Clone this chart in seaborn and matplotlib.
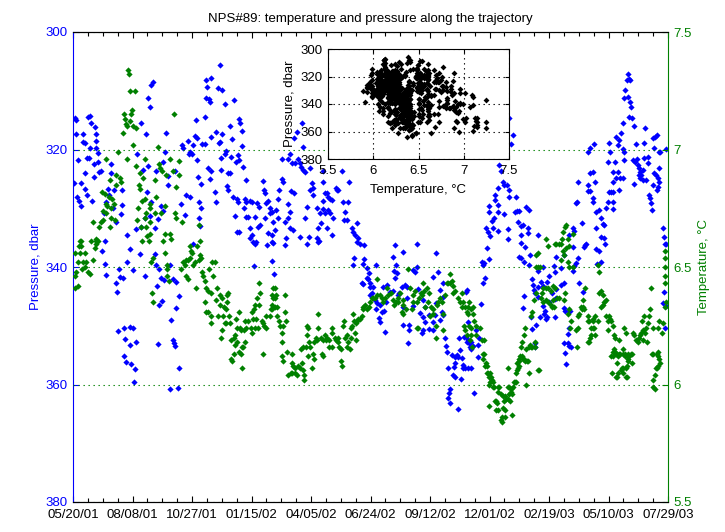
import numpy as np
import pandas as pd
import matplotlib
matplotlib.use("Agg")
import matplotlib.pyplot as plt
import matplotlib.dates as mdates
import seaborn as sns

plt.rcParams['font.family'] = ['Liberation Sans', 'DejaVu Sans']

# ---------------- data ----------------
start_date = "2001-05-20"
tick_labels = ['05/20/01', '08/08/01', '10/27/01', '01/15/02', '04/05/02', '06/24/02',
               '09/12/02', '12/01/02', '02/19/03', '05/10/03', '07/29/03']
pres_ticks = [300, 320, 340, 360, 380]
temp_ticks = [5.5, 6.0, 6.5, 7.0, 7.5]

# pressure samples: day offset from start_date, pressure (dbar)
days_p = [
 1,3,4,4,5,7,8,11,11,13,13,16,16,16,19,19,20,22,23,23,24,26,28,28,30,31,31,31,34,34,35,
 38,39,42,43,43,44,44,47,48,51,51,54,55,58,58,59,61,62,63,65,66,66,67,69,69,70,71,73,73,77,77,77,
 78,81,81,82,83,85,85,86,90,91,91,94,97,97,98,99,101,101,104,104,105,105,108,110,110,112,112,113,114,114,116,116,
 118,118,120,121,121,122,124,125,128,128,130,130,132,134,134,136,137,137,138,138,141,143,143,145,147,148,151,152,155,156,157,157,160,161,161,164,165,167,167,168,169,169,
 171,172,172,173,177,177,179,179,180,182,183,184,184,186,186,186,191,192,192,195,196,198,198,199,199,200,200,204,204,206,207,208,208,211,211,212,214,215,216,218,219,220,220,222,222,223,223,223,
 225,227,227,229,230,231,233,233,233,235,238,238,238,241,241,242,243,245,245,246,247,249,250,251,255,257,258,258,259,261,262,262,265,265,268,268,268,268,269,269,270,
 272,273,276,276,277,281,281,282,285,285,286,289,289,289,292,292,292,293,294,296,297,297,298,301,303,305,305,307,308,309,309,312,312,315,315,317,319,319,321,323,323,328,328,329,329,331,332,
 333,336,336,336,336,339,339,341,341,343,343,346,346,348,348,350,354,355,356,362,363,364,366,368,370,371,375,376,376,378,379,382,382,383,
 386,389,390,390,391,391,395,395,397,398,399,399,399,402,403,406,407,407,409,411,413,413,415,417,418,419,421,422,426,430,430,432,433,433,434,436,437,438,
 442,444,444,444,446,449,449,450,452,452,457,457,460,463,463,464,467,469,471,471,471,473,473,479,479,484,484,484,487,488,488,491,493,493,
 496,497,497,497,500,501,503,504,504,506,507,507,510,511,512,514,514,514,516,518,518,519,520,522,523,524,524,526,527,528,528,530,530,531,531,531,532,534,535,535,535,538,539,
 542,545,545,546,549,550,551,551,553,554,555,557,558,559,559,559,561,563,565,566,567,567,571,571,571,571,573,575,578,579,579,584,585,585,586,586,586,589,592,594,596,597,598,600,600,602,602,602,602,605,605,606,606,608,609,612,612,613,613,614,616,617,617,618,620,621,621,621,623,625,625,625,625,
 628,629,632,632,632,633,635,636,637,637,640,640,644,647,648,648,648,649,649,649,656,656,660,660,660,660,661,661,663,666,666,667,667,667,667,668,670,672,672,672,674,674,676,676,678,679,679,680,684,686,687,688,690,692,692,692,695,695,695,699,699,699,700,702,703,703,703,705,707,707,
 710,710,710,713,714,714,715,717,719,719,721,721,722,723,726,726,726,726,726,729,730,730,733,733,734,734,735,737,739,739,739,741,741,741,742,745,746,746,748,748,749,749,750,752,753,754,754,756,757,758,760,761,761,762,762,764,766,766,768,768,769,770,773,773,774,776,777,778,780,780,781,781,782,784,785,785,787,787,788,788,788,789,793,793,795,795,796,796,797,797,797]
pressure_dbar = [
 325.7,314.6,315.0,317.4,328.1,321.8,328.8,325.7,329.6,317.4,318.7,318.9,324.0,326.7,321.4,327.7,314.5,321.4,314.3,319.7,315.5,328.8,322.5,324.7,316.2,317.4,318.6,319.7,320.6,322.1,323.8,
 323.7,337.3,330.8,335.6,339.5,328.9,341.4,326.7,327.7,322.5,324.0,330.0,326.9,332.3,342.7,344.3,350.9,340.3,341.7,331.0,326.9,329.4,341.9,350.4,355.1,352.3,356.2,334.6,339.1,336.9,350.2,353.3,
 356.5,340.5,350.4,359.6,357.4,333.5,352.8,320.8,337.8,315.5,333.2,323.5,331.7,341.5,317.4,327.2,311.2,322.8,312.8,331.3,309.0,328.9,308.5,333.4,337.8,323.7,339.7,343.2,331.8,353.1,340.3,346.5,
 329.6,341.9,345.8,322.1,330.5,342.2,320.4,317.2,324.5,326.0,339.7,360.8,349.0,342.0,352.4,352.9,323.7,353.4,342.6,347.0,360.6,344.9,357.2,329.3,319.2,319.7,331.1,327.7,318.6,320.8,320.4,328.1,320.8,319.2,336.1,317.7,315.0,318.0,321.8,324.7,328.9,331.7,
 333.0,325.9,330.0,319.1,314.5,319.1,308.2,311.2,309.4,323.1,311.4,311.9,325.0,307.8,317.9,323.7,327.2,317.0,328.9,309.5,318.9,305.6,318.7,321.4,323.5,309.9,317.4,312.3,320.8,320.3,326.2,324.0,326.9,316.0,324.0,321.3,318.2,328.1,311.6,331.3,322.1,328.4,334.0,320.9,328.9,314.8,321.8,334.0,
 315.5,316.9,319.4,323.0,330.0,328.4,325.2,328.9,331.5,331.5,328.8,333.4,335.1,328.9,334.6,335.7,339.8,331.5,336.1,335.7,329.1,333.2,329.8,332.9,325.4,326.9,327.4,331.7,329.1,336.3,328.8,334.2,330.0,330.8,330.6,334.6,335.7,339.0,332.3,335.9,341.2,
 333.7,330.3,328.4,331.7,326.9,321.6,325.0,325.5,332.3,336.3,335.1,321.6,329.3,331.7,320.8,330.6,333.4,327.1,322.3,333.7,318.0,327.4,322.3,317.0,321.6,322.3,334.9,323.0,315.5,319.6,323.5,323.8,331.7,329.8,336.1,334.9,323.1,326.9,325.7,326.6,327.7,330.0,335.1,333.4,335.7,335.6,330.8,
 332.5,323.7,325.5,328.8,330.1,327.4,330.8,327.4,333.4,328.1,330.3,328.4,330.8,328.6,334.6,331.7,326.6,326.9,326.9,323.7,328.9,332.0,330.6,332.0,328.9,325.5,333.4,334.0,339.7,338.5,334.6,332.5,335.7,335.1,
 336.1,342.7,339.5,342.9,336.3,338.6,340.2,341.9,342.0,341.0,342.7,343.4,344.8,344.4,343.4,345.6,339.7,347.1,346.1,348.7,346.5,349.4,347.7,343.4,347.5,351.1,346.0,343.1,344.3,338.3,344.1,340.7,336.3,341.9,339.7,341.0,344.8,344.4,
 343.4,337.4,346.8,349.9,343.1,343.4,345.3,352.9,349.9,350.7,340.5,346.6,340.9,336.1,340.0,343.7,347.8,351.2,345.6,348.5,350.7,346.8,349.4,348.2,350.6,341.7,349.4,350.7,348.2,337.6,346.1,340.9,343.9,349.0,
 347.7,342.7,345.1,348.2,352.1,353.4,354.5,357.2,362.3,361.4,360.8,363.1,355.0,358.4,357.0,355.3,356.3,358.7,355.0,355.3,364.2,352.1,354.1,359.1,355.5,356.7,357.2,351.9,357.2,344.3,351.9,343.9,352.8,349.4,352.4,357.2,352.9,353.6,352.8,354.0,357.2,353.4,361.4,
 350.7,353.3,355.3,352.1,346.3,339.1,339.7,342.7,339.3,341.9,333.4,336.8,334.0,329.6,330.6,338.6,334.7,332.2,333.4,331.7,327.7,328.6,326.6,329.4,330.6,333.9,322.6,323.7,325.5,326.0,331.0,326.0,333.5,335.2,314.6,326.9,328.1,319.1,317.5,330.6,328.1,330.5,332.3,330.5,338.3,333.0,334.6,335.9,338.5,332.9,347.0,339.1,344.9,336.6,329.8,333.4,334.2,330.3,339.7,338.0,348.5,342.0,350.6,343.1,343.9,344.4,352.9,353.6,349.9,334.6,340.7,343.4,345.1,
 348.5,342.6,340.0,343.2,346.6,348.0,347.5,348.9,342.6,348.5,341.5,346.0,344.4,339.8,340.9,345.4,348.5,338.3,343.7,345.3,340.2,343.1,338.0,342.7,347.0,352.9,347.5,354.6,356.5,351.4,352.9,334.6,347.5,350.4,353.4,347.5,353.6,333.4,336.6,340.7,333.9,339.8,329.1,339.3,328.9,325.5,338.5,342.7,332.5,344.3,336.6,336.3,336.1,320.4,326.0,327.1,319.7,324.0,327.1,323.8,328.3,328.9,319.1,325.5,330.6,333.4,336.9,339.5,330.3,337.3,
 331.7,334.9,339.1,332.7,332.9,335.1,336.1,330.0,322.1,328.9,318.9,327.2,320.4,327.2,323.8,325.5,327.2,328.9,330.1,322.1,317.9,324.9,319.2,323.8,318.4,326.9,324.9,317.2,315.5,319.9,324.9,311.2,320.4,321.8,309.9,308.2,307.1,311.1,308.0,314.5,308.2,311.9,312.8,314.6,321.8,316.0,325.9,322.1,319.1,321.6,322.6,323.1,324.3,323.8,324.9,324.3,323.5,325.2,318.9,321.4,316.3,325.2,321.3,322.3,327.7,328.3,329.1,330.3,318.0,326.0,319.7,324.0,317.9,324.3,317.5,326.9,324.9,326.4,320.4,323.1,325.5,320.4,333.4,346.1,334.9,344.3,336.1,350.4,319.9,336.0,346.6]

# temperature samples: day offset from start_date, temperature (deg C)
days_t = [
 3,3,3,4,7,7,8,9,9,11,11,12,13,16,16,17,20,23,24,27,27,30,31,31,31,34,35,
 38,39,40,40,43,44,44,44,46,48,50,50,51,51,52,55,56,58,58,61,63,65,67,69,70,71,73,73,74,75,77,77,
 78,79,81,81,83,85,85,86,87,89,90,90,91,93,93,94,97,97,97,98,98,99,102,104,104,104,104,105,106,108,108,110,110,112,114,116,117,118,120,121,124,124,124,125,126,126,126,129,130,130,
 132,134,136,137,138,138,143,143,145,147,148,151,152,152,155,155,157,157,159,160,161,164,165,167,169,169,171,171,172,173,175,177,177,179,179,182,182,183,186,186,186,187,188,191,192,194,195,198,198,199,200,200,202,203,204,206,206,207,207,208,210,
 211,212,212,214,216,216,218,218,219,220,220,223,223,225,226,226,227,227,229,230,231,231,233,235,239,241,241,242,243,245,245,246,247,249,250,250,251,254,255,255,257,259,259,265,266,268,268,268,269,269,272,272,272,
 273,274,274,277,278,281,281,281,282,282,285,285,286,288,289,293,294,294,294,296,298,298,301,303,305,307,308,309,309,311,311,313,315,315,316,316,317,319,321,323,324,324,327,328,329,329,333,335,336,336,339,340,341,344,344,348,348,348,352,354,356,356,
 358,360,360,362,363,364,366,368,368,370,372,374,374,375,376,378,379,380,380,382,383,386,389,390,390,393,395,398,399,402,403,406,409,409,413,415,417,419,422,424,428,430,432,434,437,437,
 440,442,444,444,444,448,450,453,456,457,457,460,463,463,464,465,468,469,471,472,473,476,477,479,480,481,484,484,488,488,489,491,493,496,497,497,500,503,504,507,507,510,511,511,514,518,520,523,523,524,526,527,527,530,530,531,531,532,532,534,535,535,535,536,538,538,539,
 542,542,547,550,551,551,553,553,554,555,557,557,558,559,559,559,561,561,562,563,565,565,566,567,569,569,570,571,571,571,573,575,575,577,577,578,578,579,581,581,581,582,585,585,585,586,586,588,589,589,590,590,592,593,594,596,596,597,597,598,600,600,600,601,602,604,604,605,606,606,608,608,609,609,610,612,613,613,614,616,617,621,621,625,627,
 616,617,620,623,623,623,625,625,628,629,631,632,632,636,636,636,639,639,639,643,643,644,645,645,647,648,648,649,651,653,653,656,656,657,659,659,660,660,661,661,663,663,666,666,666,667,667,667,668,670,672,672,676,678,679,679,680,683,684,686,686,687,688,692,692,692,694,694,695,696,696,699,699,699,700,702,702,706,706,707,707,
 710,710,713,713,714,717,717,719,719,721,722,723,723,725,726,726,726,727,727,729,729,730,730,731,731,731,733,733,734,734,735,737,738,739,739,739,739,741,742,742,744,744,744,745,745,745,746,746,746,748,750,752,752,753,754,757,760,761,762,764,765,766,766,768,769,770,772,773,774,776,777,778,780,780,780,780,782,782,784,785,785,787,787,787,787,788,788,789,792,793,796,796,796,796,796,796,797]
temp_c = [
 6.56,6.46,6.41,6.48,6.52,6.42,6.59,6.61,6.56,6.61,6.59,6.49,6.52,6.56,6.50,6.52,6.48,6.47,6.61,6.69,6.53,6.58,6.62,6.61,6.60,6.61,6.67,
 6.69,6.82,6.74,6.70,6.81,6.96,6.77,6.73,6.76,6.80,6.87,6.67,6.75,6.71,6.79,6.77,6.70,6.89,6.85,6.99,6.88,6.86,7.07,7.15,7.13,7.11,7.10,6.96,7.34,7.32,7.25,7.12,
 7.15,7.17,7.10,7.02,7.25,7.09,6.93,6.70,6.75,6.85,6.90,6.83,6.67,6.78,6.61,6.88,6.96,6.79,6.71,6.73,6.67,6.63,6.61,6.77,6.75,6.69,6.64,6.52,6.39,6.54,6.35,6.87,6.73,6.80,7.01,6.94,6.92,6.73,6.91,6.61,6.76,6.64,6.56,6.89,6.51,6.49,6.46,6.44,6.96,6.64,
 6.62,6.91,7.15,6.73,6.84,6.71,6.95,6.89,6.49,6.69,6.52,6.51,6.53,6.46,6.53,6.45,6.59,6.54,6.57,6.56,6.51,6.52,6.41,6.59,6.68,6.53,6.61,6.55,6.54,6.48,6.46,6.44,6.35,6.41,6.31,6.40,6.31,6.49,6.39,6.29,6.26,6.52,6.46,6.52,6.36,6.41,6.29,6.38,6.34,6.20,6.37,6.23,6.29,6.33,6.26,6.32,6.26,6.38,6.35,6.39,6.29,
 6.26,6.19,6.11,6.10,6.20,6.13,6.21,6.17,6.28,6.24,6.18,6.31,6.14,6.24,6.23,6.13,6.16,6.07,6.16,6.23,6.27,6.18,6.24,6.27,6.24,6.31,6.22,6.28,6.32,6.34,6.24,6.28,6.37,6.24,6.43,6.34,6.39,6.27,6.26,6.13,6.25,6.29,6.24,6.29,6.32,6.38,6.34,6.32,6.41,6.37,6.41,6.37,6.33,
 6.38,6.33,6.29,6.27,6.25,6.22,6.18,6.12,6.25,6.10,6.38,6.31,6.27,6.14,6.04,6.05,6.13,6.09,6.05,6.08,6.07,6.05,6.04,6.08,6.07,6.15,6.09,6.16,6.06,6.04,6.02,6.16,6.25,6.21,6.24,6.12,6.18,6.16,6.07,6.13,6.18,6.11,6.20,6.19,6.30,6.24,6.20,6.13,6.19,6.12,6.21,6.19,6.20,6.19,6.16,6.24,6.22,6.16,6.20,6.19,6.20,6.18,
 6.16,6.15,6.10,6.08,6.25,6.27,6.20,6.21,6.16,6.18,6.15,6.24,6.20,6.25,6.30,6.27,6.22,6.26,6.19,6.27,6.28,6.28,6.29,6.33,6.32,6.34,6.32,6.33,6.35,6.37,6.37,6.37,6.45,6.38,6.38,6.37,6.35,6.37,6.41,6.38,6.39,6.36,6.34,6.35,6.37,6.35,
 6.39,6.31,6.36,6.34,6.30,6.32,6.49,6.41,6.32,6.38,6.35,6.40,6.35,6.24,6.24,6.37,6.39,6.38,6.43,6.40,6.33,6.41,6.35,6.39,6.29,6.33,6.32,6.30,6.25,6.20,6.34,6.35,6.37,6.35,6.30,6.23,6.38,6.43,6.43,6.47,6.43,6.44,6.42,6.39,6.40,6.37,6.35,6.39,6.33,6.35,6.25,6.33,6.23,6.31,6.21,6.30,6.33,6.35,6.25,6.19,6.32,6.24,6.21,6.16,6.33,6.30,6.27,
 6.25,6.21,6.24,6.19,6.13,6.11,6.19,6.13,6.08,6.09,6.08,6.05,6.05,6.03,6.00,5.91,6.05,6.01,6.03,6.02,6.01,5.99,5.99,5.93,5.93,5.89,5.92,5.99,5.97,5.89,5.99,5.96,5.85,5.86,5.84,5.95,5.90,5.93,5.95,5.89,5.86,5.94,6.07,5.99,5.94,5.99,5.96,5.93,5.98,5.97,5.96,5.87,5.99,6.01,6.01,6.05,6.01,6.09,6.06,6.07,6.11,6.10,6.08,6.12,6.16,6.18,6.12,6.11,6.21,6.11,6.24,6.10,6.15,6.00,6.10,6.10,6.16,6.05,6.17,6.16,6.16,6.18,6.16,6.06,6.06,
 6.29,6.31,6.36,6.39,6.55,6.50,6.56,6.50,6.50,6.37,6.39,6.41,6.35,6.62,6.41,6.36,6.59,6.41,6.35,6.40,6.34,6.33,6.42,6.36,6.33,6.60,6.41,6.60,6.37,6.60,6.37,6.60,6.53,6.62,6.65,6.57,6.55,6.36,6.67,6.39,6.68,6.58,6.62,6.52,6.30,6.59,6.50,6.32,6.24,6.27,6.64,6.50,6.23,6.16,6.29,6.24,6.30,6.33,6.32,6.36,6.33,6.32,6.41,6.29,6.27,6.18,6.27,6.18,6.20,6.24,6.21,6.28,6.27,6.24,6.24,6.29,6.21,6.51,6.27,6.48,6.39,
 6.40,6.33,6.38,6.34,6.35,6.36,6.29,6.27,6.23,6.29,6.28,6.27,6.12,6.05,6.25,6.14,6.12,6.21,6.15,6.20,6.14,6.13,6.03,6.13,6.09,6.03,6.12,6.05,6.19,6.13,6.13,6.06,6.07,6.15,6.13,6.07,6.05,6.24,6.13,6.12,6.22,6.07,6.03,6.12,6.08,6.03,6.13,6.11,6.10,6.12,6.13,6.13,6.09,6.22,6.21,6.19,6.18,6.20,6.21,6.22,6.27,6.23,6.19,6.29,6.22,6.24,6.18,6.26,6.29,6.32,6.41,6.13,6.24,6.13,6.02,5.99,6.04,5.98,6.07,6.13,6.07,6.24,6.14,6.12,6.08,6.27,6.11,6.09,6.22,6.26,6.57,6.54,6.50,6.46,6.43,6.33,6.35]

# ---------------- build frames ----------------
start = pd.Timestamp(start_date)
df_p = pd.DataFrame({"date": start + pd.to_timedelta(days_p, unit="D"), "pressure": pressure_dbar})
df_t = pd.DataFrame({"date": start + pd.to_timedelta(days_t, unit="D"), "temperature": temp_c})

# T-P pairs for the inset: each pressure sample with the temperature sample(s) of the nearest date
dp = np.asarray(days_p, float)
dt = np.asarray(days_t, float)
tt = np.asarray(temp_c, float)
inset_temp = np.empty_like(dp)
for d in np.unique(dp):
    idx = np.where(dp == d)[0]
    nd = dt[np.argmin(np.abs(dt - d))]
    cands = tt[dt == nd]
    for n, i in enumerate(idx):
        inset_temp[i] = cands[n % len(cands)]
df_ts = pd.DataFrame({"temperature": inset_temp, "pressure": pressure_dbar})

BLUE = "#0000ff"
GREEN = "#008000"
FS = 9.5

fig = plt.figure(figsize=(7.25, 5.32), dpi=100)
ax = fig.add_axes([73/725, 1 - 502/532, 595/725, 470/532])
ax2 = ax.twinx()

sns.scatterplot(data=df_p, x="date", y="pressure", ax=ax, color=BLUE, marker="D",
                s=10, linewidth=0, legend=False)
sns.scatterplot(data=df_t, x="date", y="temperature", ax=ax2, color=GREEN, marker="D",
                s=10, linewidth=0, legend=False)

tick_dates = pd.to_datetime(tick_labels, format="%m/%d/%y")
minor_dates = pd.date_range(tick_dates[0], tick_dates[-1], freq="20D")
ax.set_xlim(mdates.date2num(tick_dates[0]), mdates.date2num(tick_dates[-1]))
ax.set_xticks(mdates.date2num(tick_dates))
ax.set_xticklabels(tick_labels)
ax.set_xticks(mdates.date2num(minor_dates), minor=True)

ax.set_ylim(380, 300)
ax.set_yticks(pres_ticks)
ax2.set_ylim(5.5, 7.5)
ax2.set_yticks(temp_ticks)
ax2.set_yticklabels(['5.5', '6', '6.5', '7', '7.5'])

ax.set_xlabel("")
ax2.set_xlabel("")
ax.set_ylabel("Pressure, dbar", color=BLUE, fontsize=FS)
ax2.set_ylabel("Temperature, \u00b0C", color=GREEN, fontsize=FS)
ax.yaxis.set_label_coords(-0.053, 0.5)
ax2.yaxis.set_label_coords(1.051, 0.5)
ax.set_title("NPS#89: temperature and pressure along the trajectory", fontsize=FS, pad=7)

ax.tick_params(axis="x", which="both", direction="in", top=True, bottom=True,
               labelsize=FS, pad=5, color="black", width=0.8)
ax.tick_params(axis="x", which="major", length=4.5)
ax.tick_params(axis="x", which="minor", length=3)
ax.tick_params(axis="y", direction="in", length=4.5, width=0.8, colors=BLUE, labelsize=FS, pad=4)
ax2.tick_params(axis="y", direction="in", length=4.5, width=0.8, colors=GREEN, labelsize=FS, pad=4)

for sp in ["top", "bottom"]:
    ax.spines[sp].set_color("black")
    ax.spines[sp].set_linewidth(0.8)
    ax2.spines[sp].set_color("black")
    ax2.spines[sp].set_linewidth(0.8)
ax.spines["left"].set_color(BLUE)
ax.spines["left"].set_linewidth(0.8)
ax.spines["right"].set_visible(False)
ax2.spines["left"].set_visible(False)
ax2.spines["right"].set_color(GREEN)
ax2.spines["right"].set_linewidth(0.8)

ax2.set_axisbelow(True)
ax2.grid(axis="y", color=GREEN, linestyle=(0, (1.2, 3.3)), linewidth=0.8)
ax.grid(False)

# ---------------- inset T-P diagram ----------------
ins = fig.add_axes([328/725, 1 - 159/532, 181/725, 110/532])
ins.set_zorder(10)
ins.set_facecolor("white")
sns.scatterplot(data=df_ts, x="temperature", y="pressure", ax=ins, color="black", marker="D",
                s=9, linewidth=0, legend=False)
ins.set_xlim(5.5, 7.5)
ins.set_ylim(380, 300)
ins.set_xticks(temp_ticks)
ins.set_xticklabels(['5.5', '6', '6.5', '7', '7.5'])
ins.set_yticks(pres_ticks)
ins.tick_params(direction="in", length=3, width=0.8, labelsize=FS, top=True, right=True, pad=4)
ins.set_axisbelow(True)
ins.grid(True, color="black", linestyle=(0, (1.2, 3.3)), linewidth=0.8)
for sp in ins.spines.values():
    sp.set_color("black")
    sp.set_linewidth(0.8)
ins.set_xlabel("Temperature, \u00b0C", fontsize=FS)
ins.set_ylabel("Pressure, dbar", fontsize=FS)
ins.xaxis.set_label_coords(0.5, -0.23)
ins.yaxis.set_label_coords(-0.18, 0.5)

fig.savefig("out.png", dpi=100)
